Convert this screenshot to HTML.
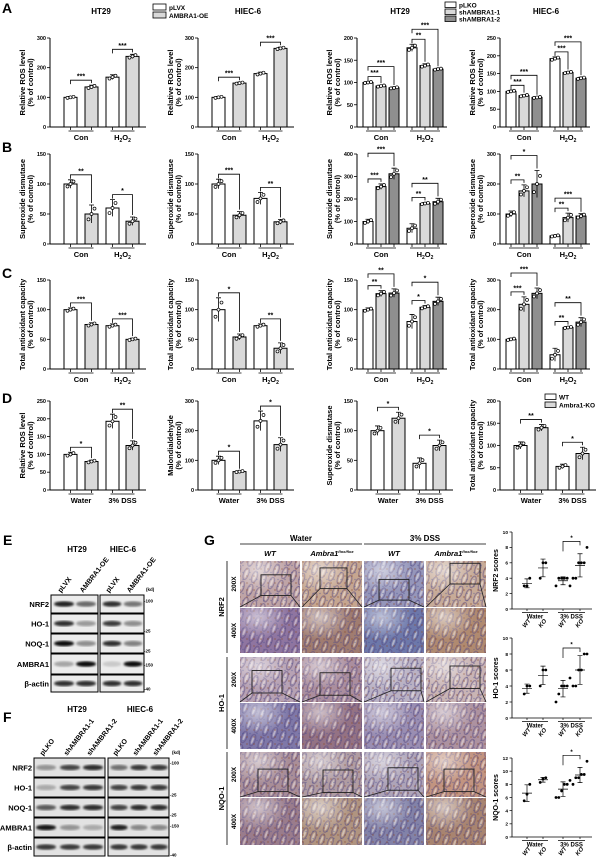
<!DOCTYPE html>
<html><head><meta charset="utf-8">
<style>
html,body{margin:0;padding:0;background:#fff;}
svg{display:block;font-family:"Liberation Sans",Arial,sans-serif;}
text{font-weight:bold;}
</style></head>
<body>
<svg id="fig" width="600" height="865" viewBox="0 0 600 865" xmlns="http://www.w3.org/2000/svg">
<defs>
<filter id="blur1"><feGaussianBlur stdDeviation="1.1"/></filter>
<radialGradient id="lumen" cx="0.3" cy="0.2" r="0.5"><stop offset="0" stop-color="#ffffff" stop-opacity="0.55"/><stop offset="1" stop-color="#ffffff" stop-opacity="0"/></radialGradient>
<pattern id="crypt" width="9" height="14" patternUnits="userSpaceOnUse" patternTransform="rotate(20)">
<ellipse cx="4.5" cy="7" rx="2.6" ry="6" fill="none" stroke="#5a4a80" stroke-width="1.1" stroke-opacity="0.55"/>
<ellipse cx="4.5" cy="7" rx="1" ry="4" fill="#f4ece8" fill-opacity="0.5"/>
</pattern>
<pattern id="speck" width="7" height="7" patternUnits="userSpaceOnUse">
<circle cx="2" cy="2" r="0.9" fill="#8a4a2a" fill-opacity="0.5"/>
<circle cx="5" cy="5.5" r="0.7" fill="#3a4a90" fill-opacity="0.45"/>
</pattern>
</defs>
<g font-size="14">
<text x="2" y="13">A</text>
<text x="2" y="152">B</text>
<text x="2" y="278">C</text>
<text x="2" y="403">D</text>
<text x="3" y="545">E</text>
<text x="3" y="722">F</text>
<text x="204" y="545">G</text>
</g>
<g font-size="8">
<text x="101" y="14" text-anchor="middle">HT29</text>
<text x="248" y="14" text-anchor="middle">HIEC-6</text>
<text x="400" y="14" text-anchor="middle">HT29</text>
<text x="546" y="14" text-anchor="middle">HIEC-6</text>
</g>
<g font-size="6.5">
<rect x="153" y="4" width="13" height="6" fill="#fff" stroke="#000" stroke-width="0.8"/>
<text x="169" y="10">pLVX</text>
<rect x="153" y="12" width="13" height="6" fill="#d9d9d9" stroke="#000" stroke-width="0.8"/>
<text x="169" y="18">AMBRA1-OE</text>
</g>
<g font-size="6.5">
<rect x="445" y="2" width="11" height="5.5" fill="#fff" stroke="#000" stroke-width="0.8"/>
<text x="459" y="7.5">pLKO</text>
<rect x="445" y="9" width="11" height="5.5" fill="#d9d9d9" stroke="#000" stroke-width="0.8"/>
<text x="459" y="14.5">shAMBRA1-1</text>
<rect x="445" y="16" width="11" height="5.5" fill="#8f8f8f" stroke="#000" stroke-width="0.8"/>
<text x="459" y="21.5">shAMBRA1-2</text>
</g>
<g font-size="6.5">
<rect x="545" y="394" width="11" height="5.5" fill="#fff" stroke="#000" stroke-width="0.8"/>
<text x="559" y="399.5">WT</text>
<rect x="545" y="402" width="11" height="5.5" fill="#d9d9d9" stroke="#000" stroke-width="0.8"/>
<text x="559" y="407.5">Ambra1-KO</text>
</g>
<g id="charts"></g>
<g id="blots"></g>
<g id="histo"></g>
<g id="scatter"></g>
</svg>
<script>
// ---- bar chart data (values, errors) ----
const a1Vals=[[100,135],[168,238]]; const a1Errs=[[3,6],[8,7]];
const a2Vals=[[100,148],[180,265]]; const a2Errs=[[3,3],[5,4]];
const a3Vals=[[100,92,88],[178,138,130]]; const a3Errs=[[2,2,2],[8,4,2]];
const a4Vals=[[100,88,83],[192,153,137]]; const a4Errs=[[3,3,2],[5,3,3]];
const b1Vals=[[100,50],[60,38]]; const b1Errs=[[7,15],[14,7]];
const b2Vals=[[100,48],[76,37]]; const b2Errs=[[8,6],[10,4]];
const b3Vals=[[100,255],[70,180]]; const b3Vals3=[312,188]; const b3Errs=[[10,12,25],[20,5,15]];
const b4Vals=[[100,177],[27,88]]; const b4Vals3=[200,93]; const b4Errs=[[10,20,45],[3,15,8]];
const c1Vals=[[100,75],[73,50]]; const c1Errs=[[3,3],[3,2]];
const c2Vals=[[100,54],[73,35]]; const c2Errs=[[20,5],[3,9]];
const c3Vals=[[100,127],[80,104]]; const c3Vals3=[128,114]; const c3Errs=[[3,5,7],[12,3,7]];
const c4Vals=[[100,218],[48,140]]; const c4Vals3=[255,158]; const c4Errs=[[4,25,18],[22,3,15]];
const d1Vals=[[100,80],[193,125]]; const d1Errs=[[6,4],[20,13]];
const d2Vals=[[100,62],[233,153]]; const d2Errs=[[14,3],[33,23]];
const d3Vals=[[100,121],[45,75]]; const d3Errs=[[8,10],[9,9]];
const d4Vals=[[100,140],[53,82]]; const d4Errs=[[8,7],[5,14]];
const conGroups=["Con","H2O2"]; const dssGroups=["Water","3% DSS"];

// ---- scatter data ----
const scCats=["WT-Water","KO-Water","WT-DSS","KO-DSS"];
const nrf2Pts=[[3,3,4],[4,6,6],[3,4,4,4,4,3],[4,4,6,6,6,8]];
const ho1Pts=[[3,4,4],[4,6,6],[2,3,4,4,4,5],[4,4,6,6,8,8]];
const nqo1Pts=[[5.5,6.5,8],[8.3,8.8,9],[6,6,7,8,8,8.6],[8,9,9,9.5,9.5,11.5]];
const nrf2Ticks=[0,2,4,6,8,10]; const ho1Ticks=[0,2,4,6,8,10]; const nqo1Ticks=[0,2,4,6,8,10,12];

// ---- blot intensities ----
const eBands=[[0.85,0.55,0.8,0.5],[0.8,0.35,0.75,0.4],[0.95,0.4,0.8,0.45],[0.3,0.95,0.15,0.95],[0.8,0.8,0.8,0.8]];
const fBands=[[0.35,0.7,0.8,0.5,0.75,0.75],[0.25,0.7,0.75,0.7,0.75,0.75],[0.6,0.8,0.8,0.7,0.8,0.8],[0.9,0.35,0.25,0.85,0.4,0.4],[0.75,0.75,0.75,0.75,0.75,0.75]];
const blotProteins=["NRF2","HO-1","NOQ-1","AMBRA1","β-actin"];

const NS="http://www.w3.org/2000/svg";
function mk(tag,parent){const e=document.createElementNS(NS,tag);parent.appendChild(e);return e;}
function setA(e,o){for(const k in o)e.setAttribute(k,o[k]);return e;}
const charts=document.getElementById('charts');

function groupLabel(parent,x,y,txt){
  const t=mk('text',parent);
  setA(t,{x:x,y:y,'text-anchor':'middle','font-size':7.5});
  
  
  if(txt==="H2O2"){
    t.appendChild(document.createTextNode("H"));
    const s1=mk('tspan',t);setA(s1,{'font-size':5,dy:2});s1.textContent="2";
    const s2=mk('tspan',t);setA(s2,{dy:-2});s2.textContent="O";
    const s3=mk('tspan',t);setA(s3,{'font-size':5,dy:2});s3.textContent="2";
  } else t.textContent=txt;
}

function barPanel(name,X,top,zero,ymax,step,vals,errs,groups,ylab,sigs,nb){
  const g=mk('g',charts);
  
  
  const yS=v=>zero-v/ymax*(zero-top);
  const offs=nb===2?[14,35,56,76]:[6,19,32,50,63,76];
  const bw=nb===2?13:10;
  const W=nb===2?96:90;
  const fills=nb===2?["#fff","#d9d9d9"]:["#fff","#d9d9d9","#8f8f8f"];
  const ax=mk('line',g);setA(ax,{x1:X,y1:top,x2:X,y2:zero,stroke:'#000','stroke-width':1});
  
  for(let v=0;v<=ymax+0.001;v+=step){
    const tk=mk('line',g);setA(tk,{x1:X-3,y1:yS(v),x2:X,y2:yS(v),stroke:'#000','stroke-width':0.8});
    
    const tt=mk('text',g);setA(tt,{x:X-4,y:yS(v)+2,'text-anchor':'end','font-size':5.5});tt.textContent=v;
    
  }
  const xa=mk('line',g);setA(xa,{x1:X,y1:zero,x2:X+W,y2:zero,stroke:'#000','stroke-width':1});
  
  const yt=mk('text',g);setA(yt,{transform:`translate(${X-25},${(top+zero)/2}) rotate(-90)`,'text-anchor':'middle','font-size':7.5});
  yt.textContent=ylab;
  const yt2=mk('text',g);setA(yt2,{transform:`translate(${X-17},${(top+zero)/2}) rotate(-90)`,'text-anchor':'middle','font-size':7.5});
  yt2.textContent="(% of control)";
  const cx=(gi,b)=>X+offs[gi*nb+b]+bw/2;
  for(let gi=0;gi<vals.length;gi++){
    for(let b=0;b<nb;b++){
      const v=vals[gi][b],e=errs[gi][b],x=X+offs[gi*nb+b];
      const r=mk('rect',g);setA(r,{x:x,y:yS(v),width:bw,height:zero-yS(v),fill:fills[b],stroke:'#000','stroke-width':1});
      
      const c=cx(gi,b);
      const el=mk('path',g);setA(el,{d:`M${c},${yS(v-e)}V${yS(v+e)}M${c-2.5},${yS(v+e)}H${c+2.5}`,stroke:'#000','stroke-width':0.8,fill:'none'});
      
      [-3,0,3].forEach((dx,k)=>{
        const d=mk('circle',g);setA(d,{cx:c+dx,cy:yS(v+(k-1)*e*0.6),r:1.5,fill:'#fff',stroke:'#000','stroke-width':0.7});
        
      });
      const tk=mk('line',g);setA(tk,{x1:c,y1:zero,x2:c,y2:zero+3,stroke:'#000','stroke-width':0.8});
    }
    const gl=mk('line',g);setA(gl,{x1:cx(gi,0)-2,y1:zero+4,x2:cx(gi,nb-1)+2,y2:zero+4,stroke:'#000','stroke-width':0.8});
    
    groupLabel(g,(cx(gi,0)+cx(gi,nb-1))/2,zero+13,groups[gi]);
  }
  sigs.forEach(s=>{
    const [gi,i,j,txt,lvl]=s;
    let m=0;for(let b=i;b<=j;b++)m=Math.max(m,vals[gi][b]+errs[gi][b]);
    const y=yS(m)-5-lvl*10;
    const x1=cx(gi,i),x2=cx(gi,j);
    const p=mk('path',g);setA(p,{d:`M${x1},${y+4}V${y}H${x2}V${yS(vals[gi][j]+errs[gi][j])-2}`,stroke:'#000','stroke-width':0.8,fill:'none'});
    
    const t=mk('text',g);setA(t,{x:(x1+x2)/2,y:y-1.5,'text-anchor':'middle','font-size':7});t.textContent=txt;
    
  });
}
const m3=(v2,v3)=>v2.map((r,i)=>[r[0],r[1],v3[i]]);
const C=[50,198,357,500];
const RA=[38,127],RB=[154,244],RC=[280,369],RD=[401,490];
const ros="Relative ROS level",sod="Superoxide dismutase",tac="Total antioxidant capacity";
barPanel('chart-a-ht29-oe',C[0],RA[0],RA[1],300,100,a1Vals,a1Errs,conGroups,ros,[[0,0,1,"***",0],[1,0,1,"***",0]],2);
barPanel('chart-a-hiec6-oe',C[1],RA[0],RA[1],300,100,a2Vals,a2Errs,conGroups,ros,[[0,0,1,"***",0],[1,0,1,"***",0]],2);
barPanel('chart-a-ht29-sh',C[2],RA[0],RA[1],200,50,a3Vals,a3Errs,conGroups,ros,[[0,0,1,"***",0],[0,0,2,"***",1],[1,0,1,"**",0],[1,0,2,"***",1]],3);
barPanel('chart-a-hiec6-sh',C[3],RA[0],RA[1],250,50,a4Vals,a4Errs,conGroups,ros,[[0,0,1,"***",0],[0,0,2,"***",1],[1,0,1,"***",0],[1,0,2,"***",1]],3);
barPanel('chart-b-ht29-oe',C[0],RB[0],RB[1],150,50,b1Vals,b1Errs,conGroups,sod,[[0,0,1,"**",0],[1,0,1,"*",0]],2);
barPanel('chart-b-hiec6-oe',C[1],RB[0],RB[1],150,50,b2Vals,b2Errs,conGroups,sod,[[0,0,1,"***",0],[1,0,1,"**",0]],2);
barPanel('chart-b-ht29-sh',C[2],RB[0],RB[1],400,100,m3(b3Vals,b3Vals3),b3Errs,conGroups,sod,[[0,0,1,"***",0],[0,0,2,"***",1],[1,0,1,"**",0],[1,0,2,"**",1]],3);
barPanel('chart-b-hiec6-sh',C[3],RB[0],RB[1],300,100,m3(b4Vals,b4Vals3),b4Errs,conGroups,sod,[[0,0,1,"**",0],[0,0,2,"*",1],[1,0,1,"**",0],[1,0,2,"***",1]],3);
barPanel('chart-c-ht29-oe',C[0],RC[0],RC[1],150,50,c1Vals,c1Errs,conGroups,tac,[[0,0,1,"***",0],[1,0,1,"***",0]],2);
barPanel('chart-c-hiec6-oe',C[1],RC[0],RC[1],150,50,c2Vals,c2Errs,conGroups,tac,[[0,0,1,"*",0],[1,0,1,"**",0]],2);
barPanel('chart-c-ht29-sh',C[2],RC[0],RC[1],150,50,m3(c3Vals,c3Vals3),c3Errs,conGroups,tac,[[0,0,1,"**",0],[0,0,2,"**",1],[1,0,1,"*",0],[1,0,2,"*",1]],3);
barPanel('chart-c-hiec6-sh',C[3],RC[0],RC[1],300,100,m3(c4Vals,c4Vals3),c4Errs,conGroups,tac,[[0,0,1,"***",0],[0,0,2,"***",1],[1,0,1,"**",0],[1,0,2,"**",1]],3);
barPanel('chart-d-ros',C[0],RD[0],RD[1],250,50,d1Vals,d1Errs,dssGroups,ros,[[0,0,1,"*",0],[1,0,1,"**",0]],2);
barPanel('chart-d-mda',C[1],RD[0],RD[1],300,100,d2Vals,d2Errs,dssGroups,"Malondialdehyde",[[0,0,1,"*",0],[1,0,1,"*",0]],2);
barPanel('chart-d-sod',C[2],RD[0],RD[1],150,50,d3Vals,d3Errs,dssGroups,sod,[[0,0,1,"*",0],[1,0,1,"*",0]],2);
barPanel('chart-d-tac',C[3],RD[0],RD[1],200,50,d4Vals,d4Errs,dssGroups,tac,[[0,0,1,"**",0],[1,0,1,"*",0]],2);

// ---- western blots ----
const blots=document.getElementById('blots');
function blot(name,boxes,lanes,rowsY,bands,bg,markers,labelY,laneLabels,kdX,titles){
  const g=mk('g',blots);
  titles.forEach(t=>{const e=mk('text',g);setA(e,{x:t[1],y:t[2],'text-anchor':'middle','font-size':8});e.textContent=t[0];
    });
  laneLabels.forEach((l,i)=>{const e=mk('text',g);setA(e,{transform:`translate(${lanes[i]-3},${labelY}) rotate(-52)`,'font-size':7,'font-weight':'normal'});e.textContent=l;
    });
  const kd=mk('text',g);setA(kd,{x:kdX,y:labelY-2,'font-size':4.5});kd.textContent="(kd)";
  rowsY.forEach((ry,r)=>{
    const lab=mk('text',g);setA(lab,{x:boxes[0][0]-2,y:(ry[0]+ry[1])/2+3,'text-anchor':'end','font-size':7.5,'font-weight':'normal'});lab.textContent=blotProteins[r];
    
    boxes.forEach(b=>{const rc=mk('rect',g);setA(rc,{x:b[0],y:ry[0],width:b[1]-b[0],height:ry[1]-ry[0],fill:bg,stroke:'#000','stroke-width':1});
      });
    lanes.forEach((lx,i)=>{const e=mk('ellipse',g);setA(e,{cx:lx,cy:(ry[0]+ry[1])/2,rx:(i<lanes.length/2?boxes[0][1]-boxes[0][0]:boxes[1][1]-boxes[1][0])/(lanes.length)*0.85,ry:2.8,fill:'#000','fill-opacity':bands[r][i],filter:'url(#blur1)'});
      });
  });
  markers.forEach(m=>{const e=mk('text',g);setA(e,{x:kdX-2,y:m[1]+1.5,'font-size':4.5,'font-weight':'normal'});e.textContent="-"+m[0];});
}
blot('western-blot-e',[[51,98],[100,144]],[64,86,112,133],[[595,613],[614,633],[634,653],[654,674],[675,692]],eBands,'#ececec',
  [["100",601],["25",631],["25",651],["150",665],["40",689]],593,["pLVX","AMBRA1-OE","pLVX","AMBRA1-OE"],146,[["HT29",77,552],["HIEC-6",123,552]]);
blot('western-blot-f',[[34,105],[108,169]],[46,70,93,119,139,159],[[758,777],[778,797],[798,817],[818,837],[838,856]],fBands,'#e2e2e2',
  [["100",763],["25",795],["25",815],["150",826],["40",855]],756,["pLKO","shAMBRA1-1","shAMBRA1-2","pLKO","shAMBRA1-1","shAMBRA1-2"],172,[["HT29",77,712],["HIEC-6",140,712]]);

// ---- histology ----
const histo=document.getElementById('histo');
const hCols=[240,302,364,426];const hW=60;
const hRows=[[561,607],[608,653],[657,702],[703,749],[752,797],[798,845]];
const hFills=[["#bfa4a6","#c6a690","#9596ba","#c7ab98"],["#8f75a0","#a07c70","#6d78aa","#b08a70"],
 ["#b7a2b4","#ab8e9e","#bab2c4","#c9b4b4"],["#7f78a8","#947284","#9a8eb2","#ad92a0"],
 ["#a98e98","#b09ca2","#aea4b8","#c29480"],["#9a7c8c","#b09480","#8282a8","#a88470"]];
const boxes=[[[0.35,0.3,0.5,0.45],[0.3,0.15,0.45,0.45],[0.25,0.4,0.5,0.45],[0.4,0.05,0.5,0.45]],
 [[0.2,0.3,0.5,0.5],[0.3,0.35,0.5,0.5],[0.45,0.25,0.5,0.5],[0.4,0.2,0.5,0.5]],
 [[0.3,0.38,0.5,0.5],[0.35,0.4,0.5,0.5],[0.4,0.35,0.5,0.5],[0.3,0.38,0.5,0.5]]];
const rowLabels=["NRF2","HO-1","NQO-1"];
const gh=mk('g',histo);
[["Water",301,240,362],["3% DSS",425,364,486]].forEach(h=>{
  const t=mk('text',gh);setA(t,{x:h[1],y:541,'text-anchor':'middle','font-size':8});t.textContent=h[0];
  
  const l=mk('line',gh);setA(l,{x1:h[2],y1:544,x2:h[3],y2:544,stroke:'#000','stroke-width':0.8});
});
["WT","Ambra1","WT","Ambra1"].forEach((s,i)=>{
  const t=mk('text',gh);setA(t,{x:hCols[i]+30,y:556,'text-anchor':'middle','font-size':7.5,'font-style':'italic'});
  
  t.textContent=s;
  if(s==="Ambra1"){const sp=mk('tspan',t);setA(sp,{'font-size':4,dy:-3});sp.textContent="flox/flox";}
});
hRows.forEach((r,ri)=>{
  hCols.forEach((cx,ci)=>{
    const h=r[1]-r[0];
    const rc=mk('rect',gh);setA(rc,{x:cx,y:r[0],width:hW,height:h,fill:hFills[ri][ci]});
    
    const tx=mk('rect',gh);setA(tx,{x:cx,y:r[0],width:hW,height:h,fill:'url(#crypt)'});
    const sp=mk('rect',gh);setA(sp,{x:cx,y:r[0],width:hW,height:h,fill:'url(#speck)'});
    const ov=mk('rect',gh);setA(ov,{x:cx,y:r[0],width:hW,height:h,fill:'url(#lumen)'});
    if(ri%2===0){
      const b=boxes[ri/2][ci];const bx=cx+b[0]*hW,by=r[0]+b[1]*h,bw=b[2]*hW,bh=b[3]*h;
      const br=mk('rect',gh);setA(br,{x:bx,y:by,width:bw,height:bh,fill:'none',stroke:'#222','stroke-width':0.9});
      
      const zl=mk('path',gh);setA(zl,{d:`M${bx},${by+bh}L${cx},${r[1]}M${bx+bw},${by+bh}L${cx+hW},${r[1]}`,stroke:'#222','stroke-width':0.8});
    }
  });
  const mag=mk('text',gh);setA(mag,{transform:`translate(236,${(r[0]+r[1])/2}) rotate(-90)`,'text-anchor':'middle','font-size':6.5});
  mag.textContent=ri%2===0?"200X":"400X";
});
rowLabels.forEach((s,i)=>{
  const y0=hRows[i*2][0],y1=hRows[i*2+1][1];
  const l=mk('line',gh);setA(l,{x1:227,y1:y0,x2:227,y2:y1,stroke:'#000','stroke-width':0.8});
  const t=mk('text',gh);setA(t,{transform:`translate(224,${(y0+y1)/2}) rotate(-90)`,'text-anchor':'middle','font-size':7.5});
  t.textContent=s;
});

// ---- scatter plots ----
const scat=document.getElementById('scatter');
function scatterPanel(name,top,zero,ymax,ticks,pts,ylab){
  const g=mk('g',scat);
  const X=512;const yS=v=>zero-v/ymax*(zero-top);
  const xo=[15,31,51,68];
  const ax=mk('path',g);setA(ax,{d:`M${X},${top}V${zero}H${X+80}`,stroke:'#000','stroke-width':0.8,fill:'none'});
  
  ticks.forEach(v=>{const l=mk('line',g);setA(l,{x1:X-2.5,y1:yS(v),x2:X,y2:yS(v),stroke:'#000','stroke-width':0.7});
    const t=mk('text',g);setA(t,{x:X-4,y:yS(v)+1.8,'text-anchor':'end','font-size':4.8,'font-weight':'normal'});t.textContent=v;
    });
  const yt=mk('text',g);setA(yt,{transform:`translate(${X-14},${(top+zero)/2}) rotate(-90)`,'text-anchor':'middle','font-size':7});
  yt.textContent=ylab;
  pts.forEach((arr,i)=>{
    const cx=X+xo[i];const n=arr.length;const mean=arr.reduce((a,b)=>a+b,0)/n;
    const sd=Math.sqrt(arr.reduce((a,b)=>a+(b-mean)*(b-mean),0)/(n-1));
    arr.forEach((v,k)=>{const c=mk('circle',g);setA(c,{cx:cx+(k-(n-1)/2)*2.8,cy:yS(v),r:1.4,fill:'#000'});
      });
    const e=mk('path',g);setA(e,{d:`M${cx-5},${yS(mean)}H${cx+5}M${cx},${yS(mean-sd)}V${yS(mean+sd)}M${cx-2.5},${yS(mean-sd)}H${cx+2.5}M${cx-2.5},${yS(mean+sd)}H${cx+2.5}`,stroke:'#000','stroke-width':0.7,fill:'none'});
    
    const tk=mk('line',g);setA(tk,{x1:cx,y1:zero,x2:cx,y2:zero+2,stroke:'#000','stroke-width':0.7});
    const lt=mk('text',g);setA(lt,{transform:`translate(${cx-2},${zero+19}) rotate(-50)`,'font-size':6,'font-style':'italic'});
    lt.textContent=i%2===0?"WT":"KO";
  });
  [["Water",0,1],["3% DSS",2,3]].forEach(gr=>{
    const a=X+xo[gr[1]]-5,b=X+xo[gr[2]]+5;
    const l=mk('line',g);setA(l,{x1:a,y1:zero+3.5,x2:b,y2:zero+3.5,stroke:'#000','stroke-width':0.7});
    const t=mk('text',g);setA(t,{x:(a+b)/2,y:zero+9.5,'text-anchor':'middle','font-size':6});t.textContent=gr[0];
    
  });
  const m=Math.max(...pts[3]);const y=yS(m)-6;
  const br=mk('path',g);setA(br,{d:`M${X+xo[2]},${y+10}V${y}H${X+xo[3]}V${y+4}`,stroke:'#000','stroke-width':0.7,fill:'none'});
  
  const st=mk('text',g);setA(st,{x:X+(xo[2]+xo[3])/2,y:y-1.5,'text-anchor':'middle','font-size':6});st.textContent="*";
}
scatterPanel('scatter-nrf2',532,609,10,nrf2Ticks,nrf2Pts,"NRF2 scores");
scatterPanel('scatter-ho1',638,718,10,ho1Ticks,ho1Pts,"HO-1 scores");
scatterPanel('scatter-nqo1',758,837,12,nqo1Ticks,nqo1Pts,"NQO-1 scores");
</script>
</body></html>
